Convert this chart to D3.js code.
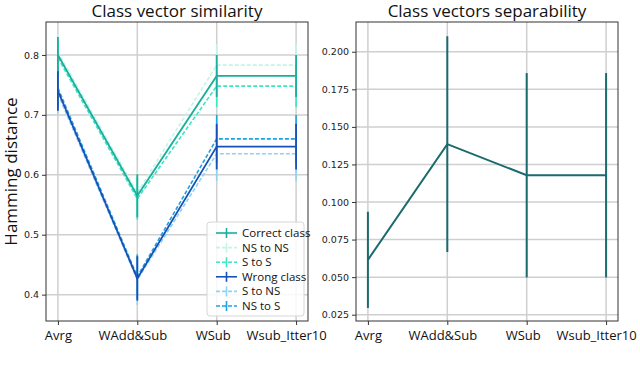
<!DOCTYPE html>
<html>
<head>
<meta charset="utf-8">
<script src="https://cdn.jsdelivr.net/npm/d3@7"></script>
<style>
  body { margin: 0; background: #fff; }
  svg { display: block; }
</style>
</head>
<body>
<svg id="chart" width="640" height="376"></svg>
<script>
// categories on the x axis (both panels)
const categories = ["Avrg", "WAdd&Sub", "WSub", "Wsub_Itter10"];

// left panel: hamming distance per series
const seriesNames = ["Correct class", "NS to NS", "S to S", "Wrong class", "S to NS", "NS to S"];
const correctMean = [0.800, 0.565, 0.765, 0.765];
const correctErr  = [0.030, 0.036, 0.035, 0.035];
const nsnsMean    = [0.805, 0.570, 0.783, 0.783];
const nsnsErr     = [0.030, 0.035, 0.035, 0.035];
const ssMean      = [0.795, 0.560, 0.748, 0.748];
const ssErr       = [0.030, 0.035, 0.035, 0.035];
const wrongMean   = [0.740, 0.427, 0.647, 0.647];
const wrongErr    = [0.033, 0.037, 0.038, 0.038];
const snsMean     = [0.735, 0.425, 0.635, 0.635];
const snsErr      = [0.033, 0.042, 0.045, 0.045];
const nssMean     = [0.745, 0.430, 0.660, 0.660];
const nssErr      = [0.033, 0.037, 0.040, 0.040];
const leftTicks   = [0.4, 0.5, 0.6, 0.7, 0.8];

// right panel: separability
const sepMean = [0.0615, 0.1385, 0.1178, 0.1178];
const sepErr  = [0.032, 0.0718, 0.068, 0.068];
const rightTicks = [0.025, 0.050, 0.075, 0.100, 0.125, 0.150, 0.175, 0.200];

const svg = d3.select("#chart");
const font = "'Open Sans', 'Noto Sans', sans-serif";
// tick labels sit a little left of their ticks in the original
const labelShift = [0, -5, -4, -10];

const left = [
  { name: seriesNames[0], mean: correctMean, err: correctErr, color: "#1aae9e", dash: null },
  { name: seriesNames[1], mean: nsnsMean, err: nsnsErr, color: "#c4f4e8", dash: "4,2" },
  { name: seriesNames[2], mean: ssMean, err: ssErr, color: "#3de6c0", dash: "4,2" },
  { name: seriesNames[3], mean: wrongMean, err: wrongErr, color: "#1652b6", dash: null },
  { name: seriesNames[4], mean: snsMean, err: snsErr, color: "#8fd2f4", dash: "4,2" },
  { name: seriesNames[5], mean: nssMean, err: nssErr, color: "#1fa2e0", dash: "4,2" }
];

function panel(box, yDomain, ticks, fmt, title) {
  const x = d3.scaleLinear().domain([-0.15, 3.15]).range([box.x0, box.x1]);
  const y = d3.scaleLinear().domain(yDomain).range([box.y1, box.y0]);
  const g = svg.append("g");

  // grid
  g.selectAll(".gx").data(categories).enter().append("line")
    .attr("x1", (d, i) => x(i)).attr("x2", (d, i) => x(i))
    .attr("y1", box.y0).attr("y2", box.y1)
    .attr("stroke", "#cfcfcf").attr("stroke-width", 1.5);
  g.selectAll(".gy").data(ticks).enter().append("line")
    .attr("x1", box.x0).attr("x2", box.x1)
    .attr("y1", d => y(d)).attr("y2", d => y(d))
    .attr("stroke", "#cfcfcf").attr("stroke-width", 1.5);

  // axes
  const ya = g.append("g").attr("transform", `translate(${box.x0},0)`)
    .call(d3.axisLeft(y).tickValues(ticks).tickFormat(fmt).tickSize(4).tickPadding(3));
  ya.select(".domain").remove();
  ya.selectAll("line").attr("stroke", "#333");
  ya.selectAll("text").attr("font-family", "'DejaVu Sans', sans-serif")
    .attr("font-size", 9.5).attr("fill", "#222");

  const xa = g.append("g").attr("transform", `translate(0,${box.y1})`)
    .call(d3.axisBottom(x).tickValues([0, 1, 2, 3]).tickFormat(i => categories[i]).tickSize(4).tickPadding(6));
  xa.select(".domain").remove();
  xa.selectAll("line").attr("stroke", "#333");
  xa.selectAll("text").attr("font-family", font).attr("font-size", 13).attr("fill", "#111")
    .attr("dx", i => labelShift[i]);

  svg.append("text").attr("x", (box.x0 + box.x1) / 2).attr("y", 17)
    .attr("text-anchor", "middle").attr("font-family", font).attr("font-size", 17)
    .attr("fill", "#111").text(title);

  return { g, x, y, box };
}

function drawSeries(p, s, width) {
  const line = d3.line().x((d, i) => p.x(i)).y(d => p.y(d));
  p.g.append("path").datum(s.mean).attr("d", line)
    .attr("fill", "none").attr("stroke", s.color).attr("stroke-width", width)
    .attr("stroke-dasharray", s.dash);
  p.g.selectAll(null).data(s.mean).enter().append("line")
    .attr("x1", (d, i) => p.x(i)).attr("x2", (d, i) => p.x(i))
    .attr("y1", (d, i) => p.y(d - s.err[i])).attr("y2", (d, i) => p.y(d + s.err[i]))
    .attr("stroke", s.color).attr("stroke-width", width);
}

function frame(box) {
  svg.append("rect").attr("x", box.x0).attr("y", box.y0)
    .attr("width", box.x1 - box.x0).attr("height", box.y1 - box.y0)
    .attr("fill", "none").attr("stroke", "#333").attr("stroke-width", 1);
}

// left panel: dashed series underneath, solid ones on top
const lb = { x0: 46, x1: 308, y0: 22, y1: 321 };
const lp = panel(lb, [0.356, 0.855], leftTicks, d3.format(".1f"), "Class vector similarity");
left.filter(s => s.dash).forEach(s => drawSeries(lp, s, 1.6));
left.filter(s => !s.dash).forEach(s => drawSeries(lp, s, 1.8));
frame(lb);

svg.append("text")
  .attr("transform", `translate(17,${(lb.y0 + lb.y1) / 2}) rotate(-90)`)
  .attr("text-anchor", "middle").attr("font-family", font).attr("font-size", 17)
  .attr("fill", "#111").text("Hamming distance");

// legend
const lg = svg.append("g").attr("transform", "translate(207,222)");
lg.append("rect").attr("x", 0).attr("y", 0).attr("width", 97).attr("height", 94).attr("rx", 3)
  .attr("fill", "#fff").attr("fill-opacity", 0.85).attr("stroke", "#d6d6d6");
left.forEach((s, i) => {
  const yy = 11 + i * 14.6;
  lg.append("line").attr("x1", 9).attr("x2", 30).attr("y1", yy).attr("y2", yy)
    .attr("stroke", s.color).attr("stroke-width", 1.6).attr("stroke-dasharray", s.dash);
  lg.append("line").attr("x1", 19.5).attr("x2", 19.5).attr("y1", yy - 5).attr("y2", yy + 5)
    .attr("stroke", s.color).attr("stroke-width", 1.6);
  lg.append("text").attr("x", 35).attr("y", yy + 4).attr("font-family", font)
    .attr("font-size", 11.5).attr("fill", "#111").text(s.name);
});

// right panel
const rb = { x0: 356, x1: 618, y0: 22, y1: 321 };
const rp = panel(rb, [0.0208, 0.2198], rightTicks, d3.format(".3f"), "Class vectors separability");
drawSeries(rp, { mean: sepMean, err: sepErr, color: "#1b6a6e", dash: null }, 2);
frame(rb);
</script>
</body>
</html>
